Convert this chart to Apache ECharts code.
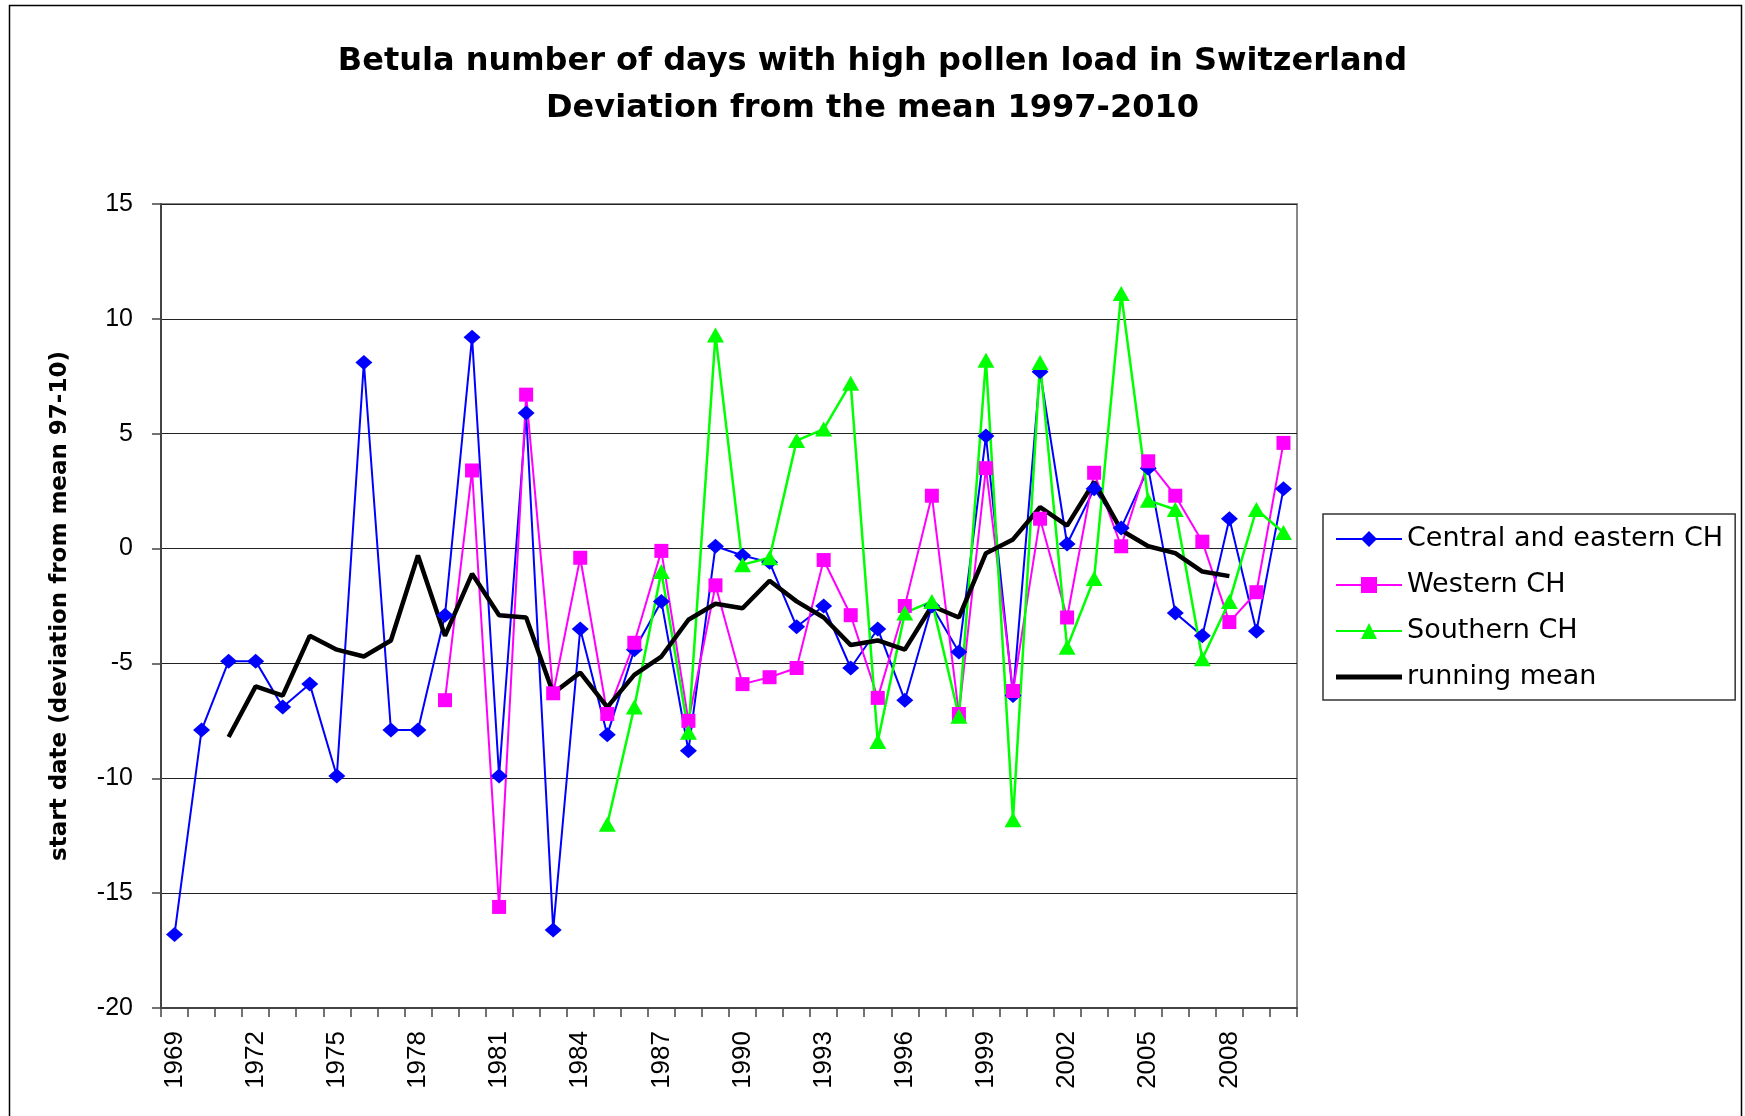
<!DOCTYPE html>
<html>
<head>
<meta charset="utf-8">
<title>Betula pollen days</title>
<script src="https://cdn.jsdelivr.net/npm/echarts@6/dist/echarts.min.js"></script>
<style>
  html, body { margin: 0; padding: 0; background: #fff; }
  #chart { width: 1745px; height: 1116px; }
</style>
</head>
<body>
<div id="chart"></div>
<script>
// years on the x axis
var years = ['1969','1970','1971','1972','1973','1974','1975','1976','1977','1978',
             '1979','1980','1981','1982','1983','1984','1985','1986','1987','1988',
             '1989','1990','1991','1992','1993','1994','1995','1996','1997','1998',
             '1999','2000','2001','2002','2003','2004','2005','2006','2007','2008',
             '2009','2010'];

// deviation from mean 97-10 (days)
var centralEastern = [-16.8, -7.9, -4.9, -4.9, -6.9, -5.9, -9.9, 8.1, -7.9, -7.9,
                      -2.9, 9.2, -9.9, 5.9, -16.6, -3.5, -8.1, -4.4, -2.3, -8.8,
                      0.1, -0.3, -0.6, -3.4, -2.5, -5.2, -3.5, -6.6, -2.5, -4.5,
                      4.9, -6.4, 7.7, 0.2, 2.6, 0.9, 3.5, -2.8, -3.8, 1.3,
                      -3.6, 2.6];
var western = [null, null, null, null, null, null, null, null, null, null,
               -6.6, 3.4, -15.6, 6.7, -6.3, -0.4, -7.2, -4.1, -0.1, -7.5,
               -1.6, -5.9, -5.6, -5.2, -0.5, -2.9, -6.5, -2.5, 2.3, -7.2,
               3.5, -6.2, 1.3, -3.0, 3.3, 0.1, 3.8, 2.3, 0.3, -3.2,
               -1.9, 4.6];
var southern = [null, null, null, null, null, null, null, null, null, null,
                null, null, null, null, null, null, -12.0, -6.9, -1.0, -8.0,
                9.3, -0.7, -0.4, 4.7, 5.2, 7.2, -8.4, -2.8, -2.3, -7.3,
                8.2, -11.8, 8.1, -4.3, -1.3, 11.1, 2.1, 1.7, -4.8, -2.3,
                1.7, 0.7];
var runningMean = [null, null, -8.2, -6.0, -6.4, -3.8, -4.4, -4.7, -4.0, -0.3,
                   -3.8, -1.1, -2.9, -3.0, -6.3, -5.4, -6.9, -5.5, -4.7, -3.1,
                   -2.4, -2.6, -1.4, -2.3, -3.0, -4.2, -4.0, -4.4, -2.5, -3.0,
                   -0.2, 0.4, 1.8, 1.0, 2.9, 0.8, 0.1, -0.2, -1.0, -1.2,
                   null, null];

var arial = '"Liberation Sans", Arial, sans-serif';
var wide = '"DejaVu Sans", Verdana, sans-serif';
var myChart = echarts.init(document.getElementById('chart'));

var option = {
    backgroundColor: '#ffffff',
    animation: false,
    title: {
        text: 'Betula number of days with high pollen load in Switzerland\nDeviation from the mean 1997-2010',
        left: 'center',
        top: 33,
        textStyle: {
            fontFamily: wide,
            fontSize: 32,
            fontWeight: 'bold',
            lineHeight: 47,
            color: '#000'
        }
    },
    legend: {
        orient: 'vertical',
        left: 1323,
        top: 514,
        padding: [10, 12, 8, 12],
        itemGap: 16,
        itemWidth: 66,
        itemHeight: 20,
        borderColor: '#333',
        borderWidth: 1.5,
        textStyle: {
            fontFamily: wide,
            fontSize: 27,
            lineHeight: 30,
            color: '#000'
        },
        data: [
            'Central and eastern CH',
            'Western CH',
            'Southern CH',
            { name: 'running mean', icon: 'path://M0,0H66V5H0Z' }
        ]
    },
    grid: {
        left: 161,
        right: 448,
        top: 204,
        bottom: 108,
        show: true,
        borderColor: '#888',
        borderWidth: 2
    },
    xAxis: {
        type: 'category',
        data: years,
        boundaryGap: true,
        axisLine: { onZero: false, lineStyle: { color: '#444', width: 2 } },
        axisTick: { show: true, interval: 0, length: 9, lineStyle: { color: '#444', width: 1.5 } },
        axisLabel: {
            interval: 2,
            rotate: 90,
            margin: 23,
            fontFamily: arial,
            fontSize: 26,
            color: '#000'
        },
        splitLine: { show: false }
    },
    yAxis: {
        type: 'value',
        min: -20,
        max: 15,
        interval: 5,
        name: 'start date (deviation from mean 97-10)',
        nameLocation: 'middle',
        nameGap: 89,
        nameTextStyle: {
            fontFamily: wide,
            fontSize: 23,
            fontWeight: 'bold',
            color: '#000'
        },
        axisLine: { show: true, lineStyle: { color: '#444', width: 2 } },
        axisTick: { show: true, length: 9, lineStyle: { color: '#444', width: 1.5 } },
        axisLabel: {
            margin: 28,
            fontFamily: arial,
            fontSize: 25,
            color: '#000'
        },
        splitLine: { show: true, lineStyle: { color: '#222', width: 1 } }
    },
    graphic: [{
        type: 'rect',
        shape: { x: 9.5, y: 5.5, width: 1732, height: 1130 },
        style: { fill: 'none', stroke: '#000', lineWidth: 1.5 },
        silent: true
    }],
    series: [
        {
            name: 'Central and eastern CH',
            type: 'line',
            data: centralEastern,
            symbol: 'diamond',
            symbolSize: [17, 15],
            color: '#0000ff',
            lineStyle: { width: 2, color: '#0000ff' },
            itemStyle: { color: '#0000ff' }
        },
        {
            name: 'Western CH',
            type: 'line',
            data: western,
            symbol: 'rect',
            symbolSize: 14,
            color: '#ff00ff',
            lineStyle: { width: 2, color: '#ff00ff' },
            itemStyle: { color: '#ff00ff' }
        },
        {
            name: 'Southern CH',
            type: 'line',
            data: southern,
            symbol: 'triangle',
            symbolSize: [17, 15],
            color: '#00ff00',
            lineStyle: { width: 2.5, color: '#00ff00' },
            itemStyle: { color: '#00ff00' }
        },
        {
            name: 'running mean',
            type: 'line',
            data: runningMean,
            symbol: 'none',
            color: '#000000',
            lineStyle: { width: 4.5, color: '#000000' }
        }
    ]
};
myChart.setOption(option);
</script>
</body>
</html>
